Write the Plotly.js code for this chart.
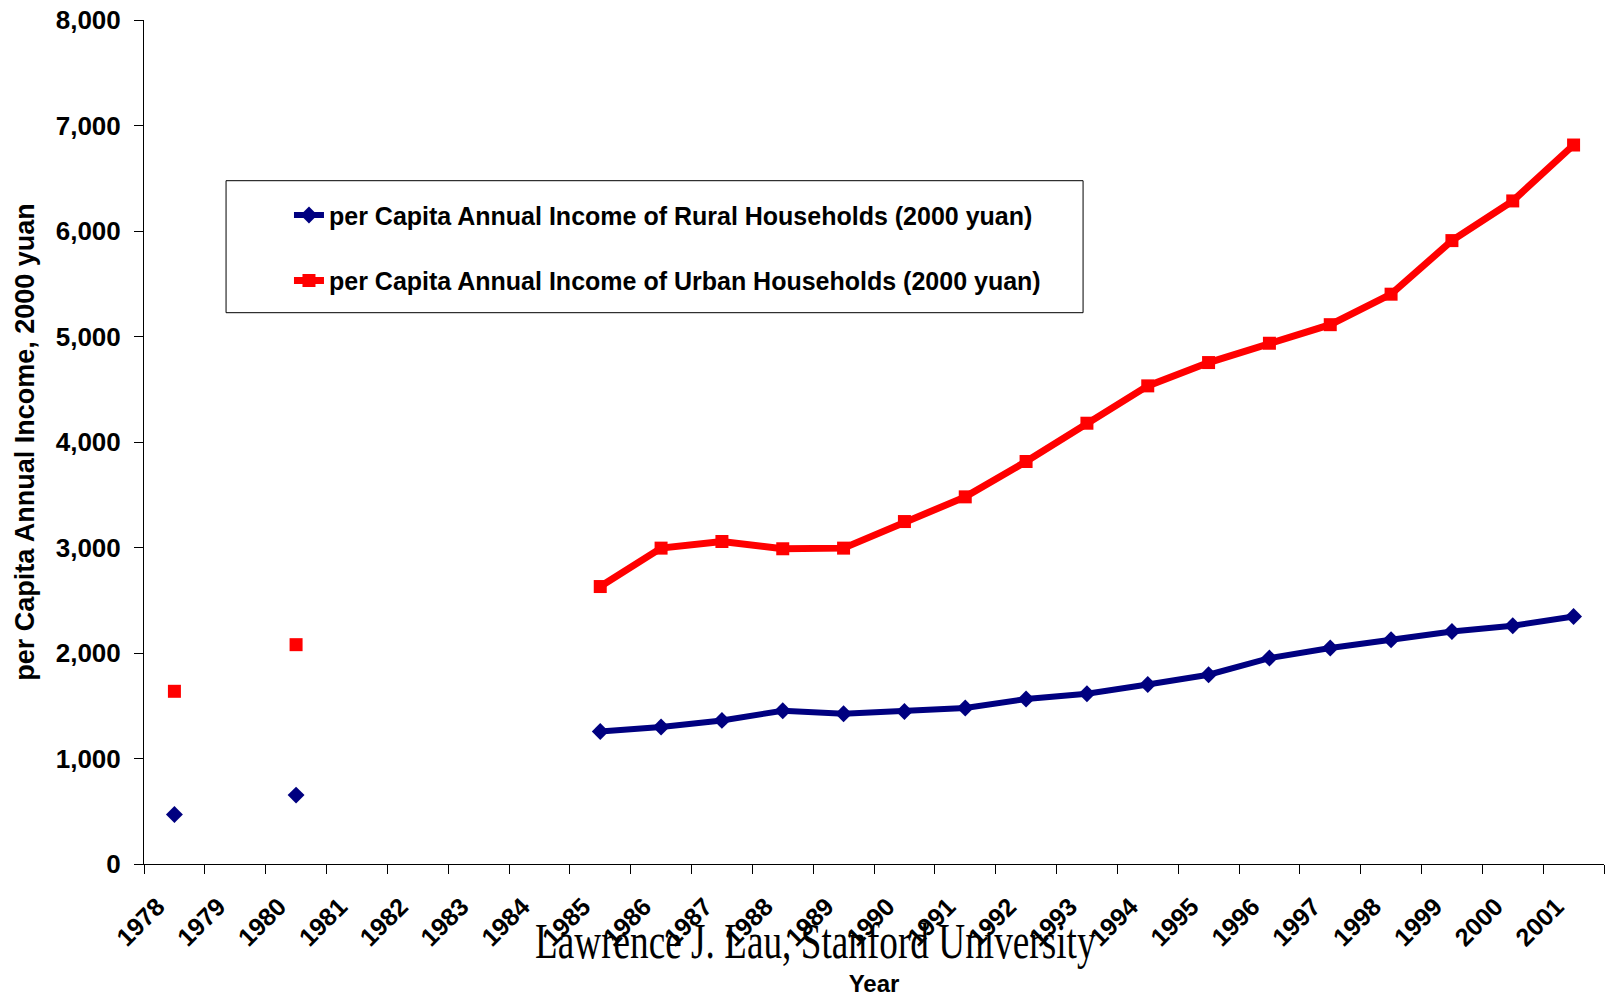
<!DOCTYPE html>
<html>
<head>
<meta charset="utf-8">
<script src="https://cdn.plot.ly/plotly-3.0.1.min.js"></script>
<style>
  html, body { margin: 0; padding: 0; background: #fff; }
  #chart { width: 1605px; height: 997px; }
</style>
</head>
<body>
<div id="chart"></div>
<script>
// Years on the category axis (1979 and 1981-1984 have no observations)
const years = ['1978','1979','1980','1981','1982','1983','1984','1985','1986','1987','1988','1989',
               '1990','1991','1992','1993','1994','1995','1996','1997','1998','1999','2000','2001'];

// Per capita annual income of rural households, 2000 yuan
const ruralIncome = [469, null, 653, null, null, null, null, 1256, 1298, 1361, 1453, 1424,
                     1446, 1478, 1564, 1614, 1701, 1794, 1952, 2047, 2125, 2204, 2258, 2346];

// Per capita annual income of urban households, 2000 yuan
const urbanIncome = [1637, null, 2079, null, null, null, null, 2630, 2994, 3057, 2988, 2994,
                     3246, 3480, 3815, 4178, 4532, 4753, 4936, 5112, 5401, 5909, 6285, 6815];

const ruralName = 'per Capita Annual Income of Rural Households (2000 yuan)';
const urbanName = 'per Capita Annual Income of Urban Households (2000 yuan)';
const yTickValues = [0, 1000, 2000, 3000, 4000, 5000, 6000, 7000, 8000];

const sans = 'Liberation Sans, Arial, sans-serif';

const traces = [
  {
    x: years, y: ruralIncome, name: ruralName, type: 'scatter', mode: 'lines+markers',
    connectgaps: false, legendgroup: 'rural',
    line: { color: '#000080', width: 6 },
    marker: { symbol: 'diamond', color: '#000080', size: 13 }
  },
  {
    x: years, y: urbanIncome, name: urbanName, type: 'scatter', mode: 'lines+markers',
    connectgaps: false, legendgroup: 'urban',
    line: { color: '#FF0000', width: 7 },
    marker: { symbol: 'square', color: '#FF0000', size: 13 }
  }
];

const layout = {
  width: 1605, height: 997,
  margin: { l: 144, r: 1, t: 20, b: 133, pad: 0 },
  paper_bgcolor: '#ffffff', plot_bgcolor: '#ffffff',
  font: { family: sans, color: '#000000' },
  showlegend: true,
  legend: {
    x: 0.0993, y: 0.796, xanchor: 'left', yanchor: 'top',
    bgcolor: 'rgba(0,0,0,0)', borderwidth: 0,
    tracegroupgap: 30,
    font: { family: sans, size: 25, weight: 'bold', color: '#000000' }
  },
  xaxis: {
    type: 'category', categoryorder: 'array', categoryarray: years,
    range: [-0.5, 23.5], fixedrange: true,
    showgrid: false, zeroline: false,
    showline: true, linecolor: '#000000', linewidth: 1,
    tickson: 'boundaries', ticks: 'outside', ticklen: 9, tickcolor: '#000000', tickwidth: 1,
    tickangle: -45, ticklabelshift: -17, ticklabelstandoff: 17,
    tickfont: { family: sans, size: 25, weight: 'bold', color: '#000000' },
    title: { text: 'Year', standoff: 33, font: { family: sans, size: 24, weight: 'bold', color: '#000000' } }
  },
  yaxis: {
    range: [0, 8000], fixedrange: true,
    tickvals: yTickValues, tickformat: ',d',
    showgrid: false, zeroline: false,
    showline: true, linecolor: '#000000', linewidth: 1,
    ticks: 'outside', ticklen: 9, tickcolor: '#000000', tickwidth: 1,
    ticklabelstandoff: 8,
    tickfont: { family: sans, size: 26, weight: 'bold', color: '#000000' },
    title: { text: 'per Capita Annual Income, 2000 yuan', standoff: 13,
             font: { family: sans, size: 27, weight: 'bold', color: '#000000' } }
  },
  shapes: [
    // frame around the legend
    { type: 'rect', xref: 'paper', yref: 'paper',
      x0: 0.0562, x1: 0.6432, y0: 0.6532, y1: 0.8096,
      line: { color: '#000000', width: 1 }, fillcolor: 'rgba(0,0,0,0)', layer: 'below' }
  ],
  annotations: [
    { text: 'Lawrence J. Lau, Stanford University', xref: 'paper', yref: 'paper',
      x: 0.4596, y: -0.091, xanchor: 'center', yanchor: 'middle', showarrow: false,
      font: { family: 'Liberation Serif, Times New Roman, serif', size: 50, color: '#000000' } }
  ]
};

Plotly.newPlot('chart', traces, layout, { displayModeBar: false, staticPlot: true }).then(function (gd) {
  // the footer credit is set in a narrow serif face
  gd.querySelectorAll('.annotation-text').forEach(function (t) {
    t.style.transformBox = 'fill-box';
    t.style.transformOrigin = 'center';
    t.style.transform = 'scaleX(0.745)';
  });
});
</script>
</body>
</html>
